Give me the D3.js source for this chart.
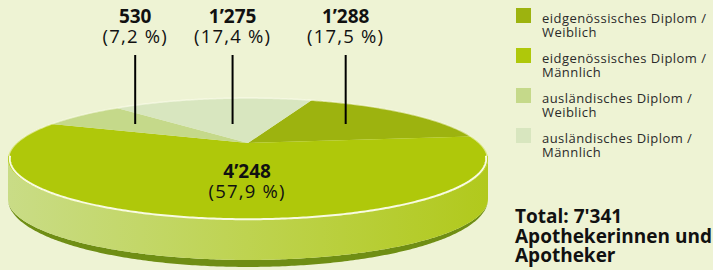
<!DOCTYPE html>
<html><head><meta charset="utf-8">
<script src="https://cdn.jsdelivr.net/npm/d3@7"></script>
<style>
html,body{margin:0;padding:0;background:#eef3d4;}
svg{display:block;font-family:"Open Sans",sans-serif;}
</style></head><body>
<svg id="chart" width="713" height="270"></svg>
<script>
// ---- data ----
const categories = ["eidgenössisches Diplom / Weiblich", "eidgenössisches Diplom / Männlich", "ausländisches Diplom / Weiblich", "ausländisches Diplom / Männlich"];
const values = [1288, 4248, 530, 1275];
const valueLabels = ["1’288", "4’248", "530", "1’275"];
const percentLabels = ["(17,5 %)", "(57,9 %)", "(7,2 %)", "(17,4 %)"];
const colors = ["#9db30f", "#afc80a", "#c5d98a", "#d8e6bf"];
const totalLines = ["Total: 7'341", "Apothekerinnen und", "Apotheker"];

// ---- geometry ----
const svg = d3.select("#chart");
const cx = 248, cy = 143, RX = 231.6, RY = 56.8, K = 0.262, T = 40;
function P(theta, r = 1, z = 0) {
  const u = r * Math.sin(theta), v = r * Math.cos(theta);
  const s = 1 / (1 + K * v);
  return [cx + RX * u * s, cy - RY * v * s + z];
}
function arcPts(a0, a1, r = 1, zf = () => 0) {
  const n = Math.max(2, Math.ceil(Math.abs(a1 - a0) / 0.01));
  return d3.range(n + 1).map(i => { const a = a0 + (a1 - a0) * i / n; return P(a, r, zf(a)); });
}
const line = d3.line();

const start = 20 * Math.PI / 180;
const pie = d3.pie().sort(null).startAngle(start).endAngle(start + 2 * Math.PI);
const arcs = pie(values);

const defs = svg.append("defs");
const g1 = defs.append("linearGradient").attr("id", "side").attr("gradientUnits", "userSpaceOnUse")
  .attr("x1", cx - 240).attr("x2", cx + 240).attr("y1", 0).attr("y2", 0);
g1.append("stop").attr("offset", 0).attr("stop-color", "#c9dc86");
g1.append("stop").attr("offset", 0.5).attr("stop-color", "#bed350");
g1.append("stop").attr("offset", 1).attr("stop-color", "#b1c91c");

const thR = Math.acos(-K), thL = 2 * Math.PI - thR;

// dark bottom band
const bandExtra = a => T + 7 * Math.max(0, (-Math.cos(a) - K) / (1 - K));
const bandPts = arcPts(thR, thL, 1, () => T).concat(arcPts(thL, thR, 1, bandExtra));
svg.append("path").attr("d", line(bandPts) + "Z").attr("fill", "#6f8e14");

// side
const sidePts = arcPts(thR, thL, 1, () => 0).concat(arcPts(thL, thR, 1, () => T));
svg.append("path").attr("d", line(sidePts) + "Z").attr("fill", "url(#side)");

// top slices
svg.append("g").selectAll("path").data(arcs).join("path")
  .attr("d", d => line([P(0, 0)].concat(arcPts(d.startAngle, d.endAngle))) + "Z")
  .attr("fill", (d, i) => colors[i]);

// rims
svg.append("path").attr("d", line(arcPts(thR - 0.05, thL + 0.05, 0.993)))
  .attr("fill", "none").attr("stroke", "#f8fbe2").attr("stroke-width", 2);
svg.append("path").attr("d", line(arcPts(thL + 0.05, thR + 2 * Math.PI - 0.05, 0.998)))
  .attr("fill", "none").attr("stroke", "rgba(255,255,240,0.55)").attr("stroke-width", 1.5);

// labels
const lineTop = 55, lineBot = 124;
function rayX(theta, y) {
  const d = (cy - y) / RY;
  const v = d / (1 - K * d);
  const r = v / Math.cos(theta);
  return cx + RX * r * Math.sin(theta) / (1 + K * v);
}
const lab = svg.append("g");
arcs.forEach((d, i) => {
  const mid = (d.startAngle + d.endAngle) / 2;
  if (Math.cos(mid) > 0.2) {
    const x = rayX(mid, lineBot);
    lab.append("line").attr("x1", x).attr("x2", x).attr("y1", lineTop).attr("y2", lineBot)
      .attr("stroke", "#000").attr("stroke-width", 2);
    lab.append("text").attr("x", x).attr("y", 23).attr("text-anchor", "middle")
      .attr("font-weight", 700).attr("font-size", 19).attr("fill", "#111").text(valueLabels[i]);
    lab.append("text").attr("x", x).attr("y", 43).attr("text-anchor", "middle")
      .attr("font-size", 18.5).attr("letter-spacing", 1.2).attr("fill", "#111").text(percentLabels[i]);
  } else {
    const p = P(mid, 0.03);
    lab.append("text").attr("x", p[0]).attr("y", 178).attr("text-anchor", "middle")
      .attr("font-weight", 700).attr("font-size", 19).attr("fill", "#111").text(valueLabels[i]);
    lab.append("text").attr("x", p[0]).attr("y", 198).attr("text-anchor", "middle")
      .attr("font-size", 18.5).attr("letter-spacing", 1.2).attr("fill", "#111").text(percentLabels[i]);
  }
});

// legend
const leg = svg.append("g");
categories.forEach((c, i) => {
  const y = 8 + i * 40;
  leg.append("rect").attr("x", 516).attr("y", y).attr("width", 15).attr("height", 15).attr("fill", colors[i]);
  const parts = c.split(" / ");
  const t = leg.append("text").attr("x", 542).attr("y", y + 14.7).attr("font-size", 13)
    .attr("letter-spacing", 0.45).attr("fill", "#2a2a2a");
  t.append("tspan").attr("x", 542).text(parts[0] + " /");
  t.append("tspan").attr("x", 542).attr("dy", 14.6).text(parts[1]);
});

// total
const tt = svg.append("text").attr("font-weight", 700).attr("font-size", 19).attr("fill", "#111");
totalLines.forEach((s, i) => {
  tt.append("tspan").attr("x", 515).attr("y", 223 + i * 19.5).text(s);
});
</script>
</body></html>
